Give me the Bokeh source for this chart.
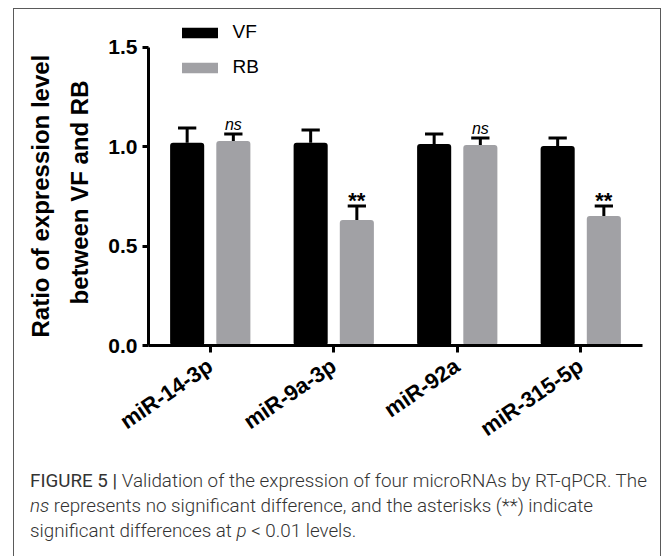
from bokeh.plotting import figure
from bokeh.layouts import column
from bokeh.models import (ColumnDataSource, FixedTicker, Legend, LegendItem,
                          Range1d, Div, Title)
from bokeh.transform import dodge
from bokeh.core.properties import value
from bokeh.embed import file_html
from bokeh.resources import INLINE

# ---------------- data ----------------
categories = ["miR-14-3p", "miR-9a-3p", "miR-92a", "miR-315-5p"]
series = ["VF", "RB"]
vf_mean = [1.020, 1.020, 1.014, 1.004]
vf_sd = [0.074, 0.064, 0.050, 0.040]
rb_mean = [1.029, 0.631, 1.009, 0.651]
rb_sd = [0.035, 0.071, 0.035, 0.051]
rb_marks = ["ns", "**", "ns", "**"]
y_ticks = [0.0, 0.5, 1.0, 1.5]
y_tick_labels = ["0.0", "0.5", "1.0", "1.5"]
y_title_lines = ["Ratio of expression level", "between VF and RB"]
caption_html = [
    "<b>FIGURE 5 |</b> Validation of the expression of four microRNAs by RT-qPCR. The",
    "<i>ns</i> represents no significant difference, and the asterisks (**) indicate",
    "significant differences at <i>p</i>&nbsp;&lt;&nbsp;0.01 levels.",
]

# ---------------- layout ----------------
W, H = 646, 455          # figure canvas (placed at page x=14, y=9)
FL, FR, FT, FB = 134, 628, 3, 336
X0, X1 = -0.5, 3.5
ppy = 198.8
Y1 = (FB - FT) / ppy
OFF = 0.187
BW = 0.276
CAP = 0.074
FONT = "Liberation Sans"

xs = list(range(len(categories)))
src = ColumnDataSource(dict(
    x=xs,
    vf=vf_mean,
    rb=rb_mean,
    vf_top=[m + s for m, s in zip(vf_mean, vf_sd)],
    rb_top=[m + s for m, s in zip(rb_mean, rb_sd)],
))

p = figure(width=W, height=H, x_range=Range1d(X0, X1), y_range=Range1d(0, Y1),
           output_backend="svg", toolbar_location=None,
           min_border_left=FL, min_border_right=W - FR,
           min_border_top=FT, min_border_bottom=H - FB)
p.outline_line_color = None
p.background_fill_color = "white"
p.border_fill_color = "white"
p.xgrid.visible = False
p.ygrid.visible = False

vf_r = p.vbar(x=dodge("x", -OFF, range=p.x_range), top="vf", bottom=0, width=BW,
              source=src, fill_color="#000000", line_color=None, border_radius=3)
rb_r = p.vbar(x=dodge("x", OFF, range=p.x_range), top="rb", bottom=0, width=BW,
              source=src, fill_color="#a1a1a5", line_color=None, border_radius=3)

# error bars (upper only)
for off, mean, top in [(-OFF, "vf", "vf_top"), (OFF, "rb", "rb_top")]:
    p.segment(x0=dodge("x", off, range=p.x_range), y0=mean,
              x1=dodge("x", off, range=p.x_range), y1=top, source=src,
              line_color="black", line_width=3)
    p.segment(x0=dodge("x", off - CAP, range=p.x_range), y0=top,
              x1=dodge("x", off + CAP, range=p.x_range), y1=top, source=src,
              line_color="black", line_width=3)

# significance marks
ns_src = ColumnDataSource(dict(
    x=[x for x, m in zip(xs, rb_marks) if m == "ns"],
    y=[m + s for m, s, k in zip(rb_mean, rb_sd, rb_marks) if k == "ns"],
    t=[k for k in rb_marks if k == "ns"]))
st_src = ColumnDataSource(dict(
    x=[x for x, m in zip(xs, rb_marks) if m != "ns"],
    y=[m + s for m, s, k in zip(rb_mean, rb_sd, rb_marks) if k != "ns"],
    t=[k for k in rb_marks if k != "ns"]))
p.text(x=dodge("x", OFF, range=p.x_range), y="y", text="t", source=ns_src,
       text_font=value(FONT), text_font_style="italic", text_font_size="16px",
       text_align="center", text_baseline="alphabetic", y_offset=-9, text_color="black")
p.text(x=dodge("x", OFF, range=p.x_range), y="y", text="t", source=st_src,
       text_font=value(FONT), text_font_style="bold", text_font_size="22px",
       text_align="center", text_baseline="alphabetic", y_offset=-5, text_color="black")

# axes
ya = p.yaxis[0]
ya.ticker = FixedTicker(ticks=y_ticks)
ya.major_label_overrides = {t: l for t, l in zip(y_ticks, y_tick_labels)}
ya.bounds = (0, 1.5)
ya.axis_line_width = 3
ya.axis_line_color = "black"
ya.major_tick_line_width = 3
ya.major_tick_out = 6
ya.major_tick_in = 0
ya.minor_tick_line_color = None
ya.major_label_standoff = 5
ya.major_label_text_font = FONT
ya.major_label_text_font_style = "bold"
ya.major_label_text_font_size = "21px"
ya.major_label_text_color = "black"

xa = p.xaxis[0]
xa.ticker = FixedTicker(ticks=xs)
xa.major_label_overrides = {x: c for x, c in zip(xs, categories)}
xa.bounds = (X0, X1)
xa.axis_line_width = 3
xa.axis_line_color = "black"
xa.major_tick_line_width = 3
xa.major_tick_out = 7
xa.major_tick_in = 0
xa.minor_tick_line_color = None
xa.major_label_orientation = 0.6
xa.major_label_standoff = 11
xa.major_label_text_font = FONT
xa.major_label_text_font_style = "bold"
xa.major_label_text_font_size = "22px"
xa.major_label_text_color = "black"

# y-axis title: two lines (inner line added first, so it sits next to the axis)
for txt, so, off in [(y_title_lines[1], 21, 41), (y_title_lines[0], 0, 8)]:
    p.add_layout(Title(text=txt, align="left", vertical_align="top", offset=off,
                       standoff=so, text_font=FONT, text_font_style="bold",
                       text_font_size="24px", text_color="black"), "left")

# legend
legend = Legend(items=[LegendItem(label=series[0], renderers=[vf_r]),
                       LegendItem(label=series[1], renderers=[rb_r])],
                location=(28.5, 267), orientation="vertical",
                glyph_width=45, glyph_height=13, label_height=22, spacing=13,
                label_standoff=11, padding=0, margin=0,
                border_line_color=None, background_fill_alpha=0,
                label_text_font=FONT, label_text_font_size="19px",
                label_text_color="black")
p.add_layout(legend)

# caption
cap = Div(
    text=("<div style=\"font-family:Roboto,'Liberation Sans',sans-serif;font-weight:300;"
          "font-size:18.8px;line-height:25px;color:#333;white-space:nowrap;"
          "padding:5px 0 0 16px;\">" + "<br>".join(caption_html) + "</div>"),
    width=W, height=92, margin=0)

root = column(p, cap, margin=(8, 0, 0, 13), spacing=0,
              styles={"border": "1px solid #5a5a5a", "border-bottom": "none"})

open("out.html", "w").write(file_html(root, INLINE))
